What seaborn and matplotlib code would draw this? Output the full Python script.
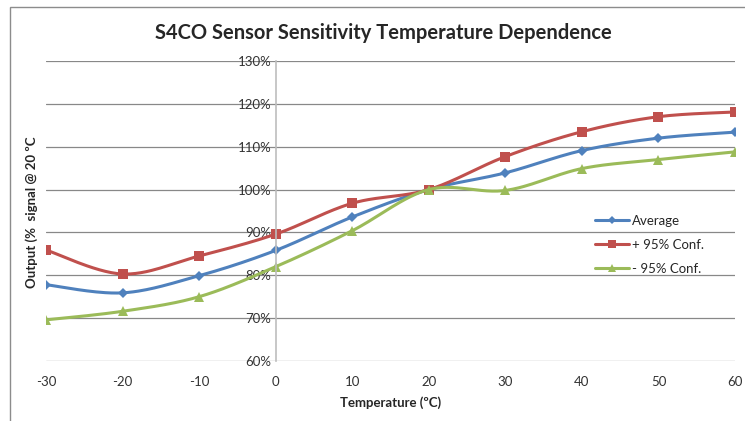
import numpy as np
import pandas as pd
import matplotlib
matplotlib.use("Agg")
import matplotlib.pyplot as plt
import seaborn as sns
from matplotlib.lines import Line2D
from matplotlib.patches import Rectangle

temperature = [-30, -20, -10, 0, 10, 20, 30, 40, 50, 60]
average = [77.8, 75.9, 79.9, 85.8, 93.6, 100.0, 103.9, 109.1, 112.0, 113.4]
upper_conf = [85.9, 80.3, 84.5, 89.6, 96.8, 100.0, 107.7, 113.5, 117.0, 118.1]
lower_conf = [69.6, 71.6, 75.0, 82.0, 90.4, 100.0, 99.8, 104.9, 107.0, 108.8]
series_names = ["Average", "+ 95% Conf.", "- 95% Conf."]
y_ticks = [60, 70, 80, 90, 100, 110, 120, 130]
x_ticks = [-30, -20, -10, 0, 10, 20, 30, 40, 50, 60]

colors = ["#4F81BD", "#C0504D", "#9BBB59"]
markers = ["D", "s", "^"]
msizes = [5, 7, 7]


def smooth(x, y, n=30):
    x = np.asarray(x, float)
    y = np.asarray(y, float)
    px = np.concatenate([[x[0]], x, [x[-1]]])
    py = np.concatenate([[y[0]], y, [y[-1]]])
    xs, ys = [], []
    t = np.linspace(0, 1, n)
    for i in range(1, len(px) - 2):
        p0 = np.array([px[i], py[i]])
        p3 = np.array([px[i + 1], py[i + 1]])
        c1 = p0 + (np.array([px[i + 1], py[i + 1]]) - np.array([px[i - 1], py[i - 1]])) / 6
        c2 = p3 - (np.array([px[i + 2], py[i + 2]]) - np.array([px[i], py[i]])) / 6
        b = ((1 - t) ** 3)[:, None] * p0 + (3 * (1 - t) ** 2 * t)[:, None] * c1 \
            + (3 * (1 - t) * t ** 2)[:, None] * c2 + (t ** 3)[:, None] * p3
        xs.extend(b[:, 0])
        ys.extend(b[:, 1])
    return np.array(xs), np.array(ys)


sns.set_style("white")
plt.rcParams["font.family"] = ["Lato", "DejaVu Sans"]

fig = plt.figure(figsize=(7.45, 4.21), dpi=100)
ax = fig.add_axes([46 / 745, 1 - 361 / 421, (735 - 46) / 745, 300 / 421])

all_series = [average, upper_conf, lower_conf]
for name, vals, c, m, ms in zip(series_names, all_series, colors, markers, msizes):
    sx, sy = smooth(temperature, vals)
    sns.lineplot(x=sx, y=sy, ax=ax, color=c, linewidth=2.2, sort=False, estimator=None)
    df = pd.DataFrame({"t": temperature, "v": vals})
    ax.plot(df["t"], df["v"], linestyle="none", marker=m, color=c, markersize=ms,
            markeredgewidth=0)

ax.set_xlim(-30, 60)
ax.set_ylim(60, 130)
ax.set_yticks(y_ticks)
ax.set_yticklabels([f"{v}%" for v in y_ticks])
ax.set_xticks(x_ticks)
ax.set_xticklabels([str(v) for v in x_ticks])
ax.yaxis.grid(True, color="#888888", linewidth=0.9)
ax.xaxis.grid(False)
for s in ["top", "right", "bottom"]:
    ax.spines[s].set_visible(False)
ax.spines["left"].set_position(("data", 0))
ax.spines["left"].set_color("#bdbdbd")
ax.spines["left"].set_linewidth(1.2)
ax.tick_params(axis="both", length=0, labelsize=9.5, colors="#333333")
ax.tick_params(axis="x", pad=11)
ax.tick_params(axis="y", pad=3)

ax.set_xlabel("Temperature (ºC)", fontsize=9.5, fontweight="bold", labelpad=6)
fig.text(32 / 745, 1 - 212 / 421, "Output (%  signal @ 20 ºC", rotation=90,
         fontsize=9.5, fontweight="bold", ha="center", va="center")
fig.text(383 / 745, 1 - 33 / 421, "S4CO Sensor Sensitivity Temperature Dependence",
         fontsize=14.5, fontweight="bold", ha="center", va="center")

handles = [Line2D([0], [0], color=c, marker=m, markersize=ms - 1, linewidth=2.2,
                  markeredgewidth=0) for c, m, ms in zip(colors, markers, msizes)]
leg = fig.legend(handles, series_names, loc="upper left",
                 bbox_to_anchor=(583 / 745, 1 - 203 / 421), frameon=False,
                 fontsize=9.5, handlelength=2.6, handletextpad=0.2, labelspacing=0.9)

fig.add_artist(Rectangle((10 / 745, -0.1), 1.2, 1 - 7 / 421 + 0.1,
                         transform=fig.transFigure, fill=False,
                         edgecolor="#8c8c8c", linewidth=1.0))

fig.savefig("out.png", dpi=100)
